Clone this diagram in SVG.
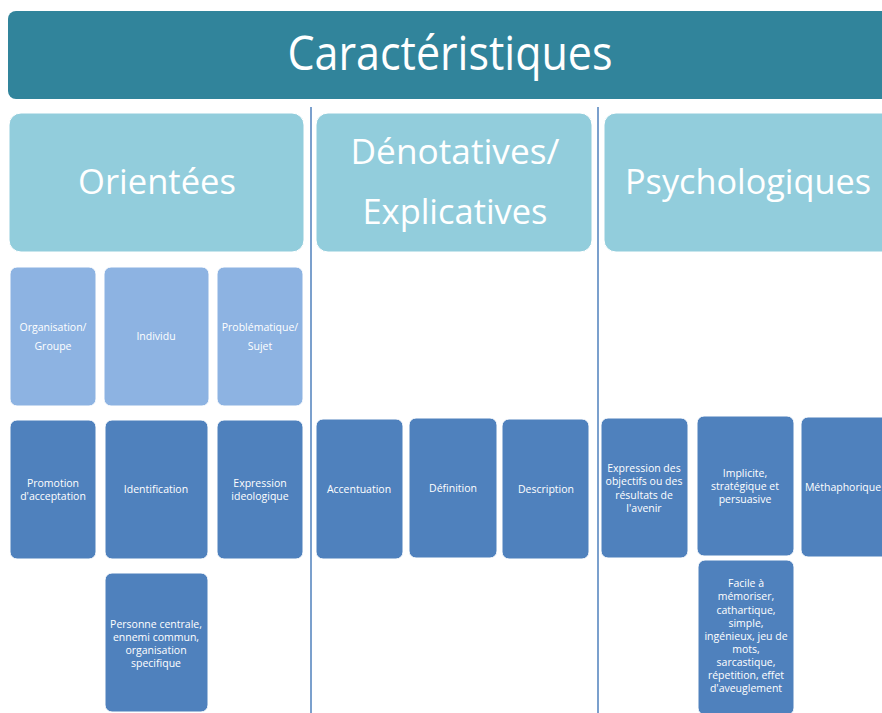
<svg xmlns="http://www.w3.org/2000/svg" width="882" height="713" viewBox="0 0 882 713">
<style>
.t{font-family:"Open Sans","Noto Sans",sans-serif;fill:#fff;text-anchor:middle}
.s{font-size:10.5px}
.h{font-size:34px}
.top{fill:#92CDDC;stroke:#fff;stroke-width:1}
.lt{fill:#8DB3E2;stroke:#fff;stroke-width:1}
.dk{fill:#4F81BD;stroke:#fff;stroke-width:1}
.ln{stroke:#4F81BD;stroke-width:1.5;fill:none}
</style>
<rect width="882" height="713" fill="#fff"/>
<g id="connectors">
<line class="ln" x1="311" y1="107" x2="311" y2="713"/>
<line class="ln" x1="598" y1="107" x2="598" y2="713"/>
</g>
<g id="title">
<rect x="8" y="11" width="890" height="88" rx="8" fill="#31849B"/>
<text class="t" x="450" y="70" font-size="48" textLength="325" lengthAdjust="spacingAndGlyphs">Caractéristiques</text>
</g>
<g id="orientees">
<rect class="top" x="9" y="113" width="295" height="139" rx="12"/>
<text class="t h" x="157" y="194" textLength="158" lengthAdjust="spacingAndGlyphs">Orientées</text>
</g>
<g id="denotatives">
<rect class="top" x="316" y="113" width="276" height="139" rx="12"/>
<text class="t h" x="455" y="164" textLength="209" lengthAdjust="spacingAndGlyphs">Dénotatives/</text>
<text class="t h" x="455" y="224" textLength="185" lengthAdjust="spacingAndGlyphs">Explicatives</text>
</g>
<g id="psychologiques">
<rect class="top" x="604" y="113" width="300" height="139" rx="12"/>
<text class="t h" x="748" y="194" textLength="246" lengthAdjust="spacingAndGlyphs">Psychologiques</text>
</g>
<g id="organisation">
<rect class="lt" x="10" y="267" width="86" height="139" rx="7"/>
<text class="t s" x="53" y="331">Organisation/</text>
<text class="t s" x="53" y="350">Groupe</text>
</g>
<g id="individu">
<rect class="lt" x="104" y="267" width="105" height="139" rx="7"/>
<text class="t s" x="156" y="340">Individu</text>
</g>
<g id="problematique">
<rect class="lt" x="217" y="267" width="86" height="139" rx="7"/>
<text class="t s" x="260" y="331">Problématique/</text>
<text class="t s" x="260" y="350">Sujet</text>
</g>
<g id="promotion">
<rect class="dk" x="10" y="420" width="86" height="139" rx="7"/>
<text class="t s" x="53" y="487">Promotion</text>
<text class="t s" x="53" y="500">d'acceptation</text>
</g>
<g id="identification">
<rect class="dk" x="105" y="420" width="103" height="139" rx="7"/>
<text class="t s" x="156" y="493">Identification</text>
</g>
<g id="expression-ideologique">
<rect class="dk" x="217" y="420" width="86" height="139" rx="7"/>
<text class="t s" x="260" y="487">Expression</text>
<text class="t s" x="260" y="500">ideologique</text>
</g>
<g id="personne">
<rect class="dk" x="105" y="573" width="103" height="139" rx="7"/>
<text class="t s" x="156" y="628">Personne centrale,</text>
<text class="t s" x="156" y="641">ennemi commun,</text>
<text class="t s" x="156" y="654">organisation</text>
<text class="t s" x="156" y="667">specifique</text>
</g>
<g id="accentuation">
<rect class="dk" x="316" y="419" width="87" height="140" rx="7"/>
<text class="t s" x="359" y="493">Accentuation</text>
</g>
<g id="definition">
<rect class="dk" x="409" y="418" width="88" height="140" rx="7"/>
<text class="t s" x="453" y="492">Définition</text>
</g>
<g id="description">
<rect class="dk" x="502" y="419" width="87" height="140" rx="7"/>
<text class="t s" x="546" y="493">Description</text>
</g>
<g id="expression-objectifs">
<rect class="dk" x="601" y="418" width="87" height="140" rx="7"/>
<text class="t s" x="644" y="472">Expression des</text>
<text class="t s" x="644" y="485">objectifs ou des</text>
<text class="t s" x="644" y="499">résultats de</text>
<text class="t s" x="644" y="512">l'avenir</text>
</g>
<g id="implicite">
<rect class="dk" x="697" y="416" width="97" height="140" rx="7"/>
<text class="t s" x="745" y="477">Implicite,</text>
<text class="t s" x="745" y="490">stratégique et</text>
<text class="t s" x="745" y="503">persuasive</text>
</g>
<g id="methaphorique">
<rect class="dk" x="801" y="417" width="100" height="140" rx="7"/>
<text class="t s" x="843" y="491">Méthaphorique</text>
</g>
<g id="facile">
<rect class="dk" x="698" y="560" width="96" height="155" rx="7"/>
<text class="t s" x="746" y="587">Facile à</text>
<text class="t s" x="746" y="600">mémoriser,</text>
<text class="t s" x="746" y="614">cathartique,</text>
<text class="t s" x="746" y="627">simple,</text>
<text class="t s" x="746" y="640">ingénieux, jeu de</text>
<text class="t s" x="746" y="653">mots,</text>
<text class="t s" x="746" y="666">sarcastique,</text>
<text class="t s" x="746" y="679">répetition, effet</text>
<text class="t s" x="746" y="692">d'aveuglement</text>
</g>
</svg>
